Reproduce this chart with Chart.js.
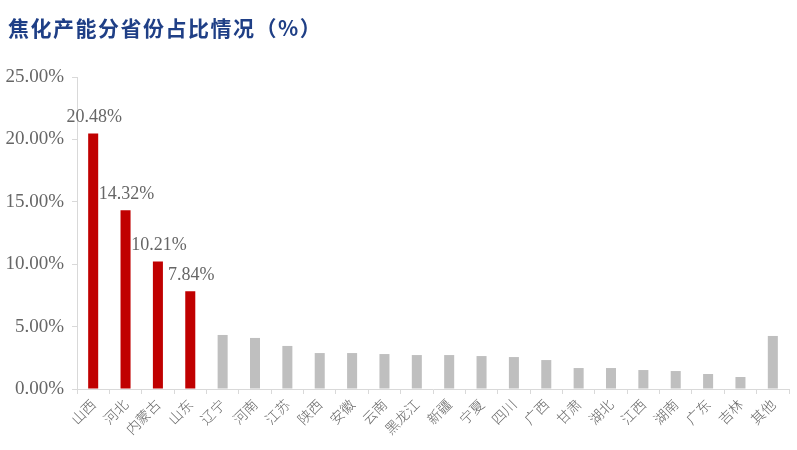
<!DOCTYPE html>
<html>
<head>
<meta charset="utf-8">
<script src="https://cdn.jsdelivr.net/npm/chart.js@4/dist/chart.umd.min.js"></script>
<style>
  html, body { margin: 0; padding: 0; background: #fff; }
  #wrap { position: relative; width: 797px; height: 450px; }
  #title { position: absolute; left: 8px; top: 12px; font-family: "Noto Sans CJK SC", sans-serif; font-weight: bold; font-size: 21px; color: #1F3F86; letter-spacing: 1.5px; }
  canvas { position: absolute; left: 0; top: 0; }
</style>
</head>
<body>
<div id="wrap">
  <canvas id="c" width="797" height="450"></canvas>
  <div id="title">焦化产能分省份占比情况（%）</div>
</div>
<script>
const categories = ["山西","河北","内蒙古","山东","辽宁","河南","江苏","陕西","安徽","云南","黑龙江","新疆","宁夏","四川","广西","甘肃","湖北","江西","湖南","广东","吉林","其他"];
const shares = [20.48, 14.32, 10.21, 7.84, 4.33, 4.09, 3.45, 2.88, 2.88, 2.80, 2.72, 2.72, 2.64, 2.56, 2.32, 1.68, 1.68, 1.52, 1.44, 1.20, 0.96, 4.25];
const highlightCount = 4;

const RED = "#C00000", GRAY = "#BFBFBF", TEXT = "#666666", AXIS = "#D9D9D9";

const labelPlugin = {
  id: "valueLabels",
  afterDatasetsDraw(chart) {
    const ctx = chart.ctx;
    const meta = chart.getDatasetMeta(0);
    ctx.save();
    ctx.font = '18px "Liberation Serif", "Times New Roman", serif';
    ctx.fillStyle = TEXT;
    ctx.textAlign = "center";
    ctx.textBaseline = "bottom";
    meta.data.forEach((el, i) => {
      if (i < highlightCount) {
        ctx.fillText(shares[i].toFixed(2) + "%", el.x + 1, el.y - 7);
      }
    });
    ctx.restore();
  }
};

new Chart(document.getElementById("c"), {
  type: "bar",
  data: {
    labels: categories,
    datasets: [{
      data: shares,
      backgroundColor: (c) => c.dataIndex < highlightCount ? RED : GRAY,
      categoryPercentage: 1,
      barPercentage: 0.31
    }]
  },
  options: {
    responsive: false,
    animation: false,
    layout: { padding: { top: 77, right: 8, left: 0, bottom: 0 } },
    plugins: { legend: { display: false }, tooltip: { enabled: false }, title: { display: false } },
    scales: {
      x: {
        grid: { drawOnChartArea: false, offset: true, tickLength: 5, color: AXIS },
        border: { color: AXIS, width: 1 },
        ticks: {
          minRotation: 45, maxRotation: 45, autoSkip: false, padding: 2,
          color: TEXT,
          font: { family: '"Noto Sans CJK SC", sans-serif', size: 14, weight: 300 }
        },
        afterFit(s) { s.height = 61; }
      },
      y: {
        min: 0, max: 25,
        grid: { drawOnChartArea: false, tickLength: 5, color: AXIS },
        border: { color: AXIS, width: 1 },
        ticks: {
          stepSize: 5, padding: 8, color: TEXT,
          font: { family: '"Liberation Serif", "Times New Roman", serif', size: 19 },
          callback: (v) => v.toFixed(2) + "%"
        },
        afterFit(s) { s.width = 77; }
      }
    }
  },
  plugins: [labelPlugin]
});
</script>
</body>
</html>
